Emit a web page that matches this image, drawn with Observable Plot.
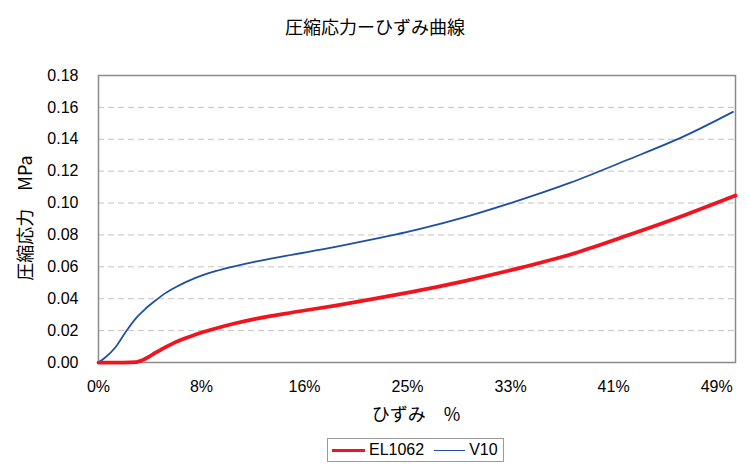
<!DOCTYPE html>
<html>
<head>
<meta charset="utf-8">
<script src="https://cdn.jsdelivr.net/npm/d3@7"></script>
<script src="https://cdn.jsdelivr.net/npm/@observablehq/plot@0.6"></script>
<style>
  html, body { margin: 0; padding: 0; background: #fff; }
  #wrap { position: relative; width: 750px; height: 471px; overflow: hidden; font-family: "Noto Sans CJK JP", "Liberation Sans", sans-serif; }
  .title { position: absolute; left: 0; width: 750px; top: 13px; text-align: center; font-size: 18px; color: #000; }
  .ylab { position: absolute; left: 24px; top: 218px; transform: translate(-50%, -50%) rotate(-90deg); white-space: nowrap; font-size: 18px; color: #000; }
  .xlab { position: absolute; left: 416px; top: 400px; transform: translateX(-50%); white-space: nowrap; font-size: 18px; color: #000; }
  .legend { position: absolute; left: 327px; top: 438px; width: 177px; height: 24px; border: 1px solid #9a9a9a; box-sizing: border-box; display: flex; align-items: center; font-family: "Liberation Sans", Arial, sans-serif; font-size: 16px; }
  .legend span.sw { display: inline-block; height: 0; margin-left: 4px; margin-right: 4px; }
</style>
</head>
<body>
<div id="wrap"></div>
<script>
// Strain (fraction) and stress (MPa)
const strainEL = [0, 0.01, 0.02, 0.030, 0.035, 0.040, 0.045, 0.0507, 0.0613, 0.0772, 0.0931, 0.109, 0.1249, 0.155, 0.1886, 0.22, 0.2483, 0.293, 0.338, 0.3756, 0.4207, 0.4658, 0.507];
const stressEL = [0, 0, 0, 0.0002, 0.0015, 0.0035, 0.0060, 0.0085, 0.0128, 0.0175, 0.0213, 0.0246, 0.0274, 0.0315, 0.0357, 0.040, 0.0441, 0.0514, 0.0598, 0.0677, 0.0796, 0.0922, 0.1047];

const strainV = [0, 0.0056, 0.0135, 0.0215, 0.0294, 0.0374, 0.0454, 0.0533, 0.0613, 0.0772, 0.0931, 0.109, 0.1249, 0.15, 0.1886, 0.22, 0.256, 0.293, 0.328, 0.3756, 0.4207, 0.4658, 0.505];
const stressV = [0, 0.0033, 0.0096, 0.019, 0.0274, 0.0337, 0.0389, 0.0435, 0.0472, 0.0531, 0.0573, 0.0605, 0.0633, 0.067, 0.0725, 0.0775, 0.0838, 0.0915, 0.100, 0.1128, 0.127, 0.1418, 0.1572];

const seriesNames = ["EL1062", "V10"];
const seriesColors = ["#f0141e", "#1f4fa3"];
const yTicks = [0, 0.02, 0.04, 0.06, 0.08, 0.10, 0.12, 0.14, 0.16, 0.18];
const gridTicks = [0.02, 0.04, 0.06, 0.08, 0.10, 0.12, 0.14, 0.16];
const xTicks = [0, 0.082, 0.164, 0.246, 0.328, 0.41, 0.492];
const xTickLabels = ["0%", "8%", "16%", "25%", "33%", "41%", "49%"];

const el = strainEL.map((x, i) => ({x, y: stressEL[i]}));
const v10 = strainV.map((x, i) => ({x, y: stressV[i]}));

const chart = Plot.plot({
  width: 750,
  height: 471,
  marginTop: 75,
  marginLeft: 98,
  marginRight: 15,
  marginBottom: 109,
  style: {fontFamily: "'Liberation Sans', Arial, sans-serif", fontSize: "16px", color: "#000", background: "#fff"},
  x: {domain: [0, 0.507]},
  y: {domain: [0, 0.18]},
  marks: [
    Plot.gridY(gridTicks, {stroke: "#c4c4c4", strokeOpacity: 1, strokeDasharray: "6,4", strokeWidth: 1}),
    Plot.frame({stroke: "#8a8a8a", strokeWidth: 1.5}),
    Plot.axisY(yTicks, {tickSize: 0, tickPadding: 20, tickFormat: d => d.toFixed(2), label: null, fontSize: 16}),
    Plot.axisX(xTicks, {tickSize: 0, tickPadding: 18, tickFormat: (d, i) => xTickLabels[i], label: null, fontSize: 16}),
    Plot.line(v10, {x: "x", y: "y", stroke: seriesColors[1], strokeWidth: 1.75, curve: "monotone-x"}),
    Plot.line(el, {x: "x", y: "y", stroke: seriesColors[0], strokeWidth: 3.75, curve: "monotone-x"})
  ]
});

const wrap = document.getElementById("wrap");
wrap.appendChild(chart);

const title = document.createElement("div");
title.className = "title";
title.textContent = "圧縮応力ーひずみ曲線";
wrap.appendChild(title);

const ylab = document.createElement("div");
ylab.className = "ylab";
ylab.textContent = "圧縮応力　MPa";
wrap.appendChild(ylab);

const xlab = document.createElement("div");
xlab.className = "xlab";
xlab.textContent = "ひずみ　%";
wrap.appendChild(xlab);

const legend = document.createElement("div");
legend.className = "legend";
const widths = [3.5, 1.5];
const lens = [33, 31];
seriesNames.forEach((name, i) => {
  const sw = document.createElement("span");
  sw.className = "sw";
  sw.style.width = lens[i] + "px";
  sw.style.borderTop = widths[i] + "px solid " + seriesColors[i];
  if (i === 1) sw.style.marginLeft = "10px";
  legend.appendChild(sw);
  const t = document.createElement("span");
  t.textContent = name;
  legend.appendChild(t);
});
wrap.appendChild(legend);
</script>
</body>
</html>
